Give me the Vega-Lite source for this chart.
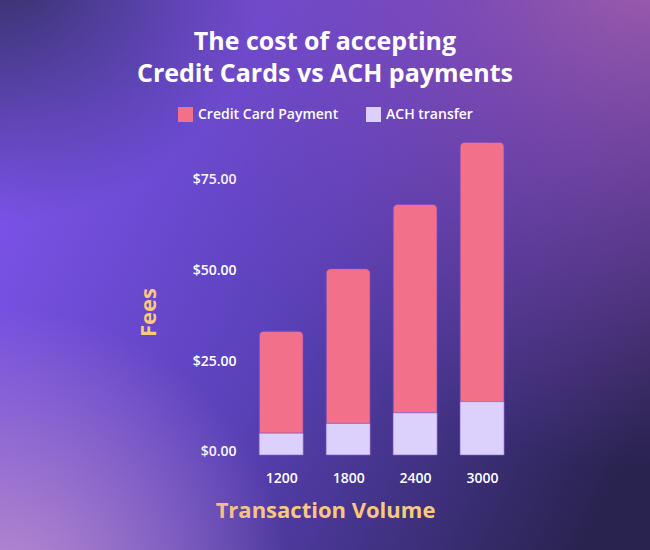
{
  "$schema": "https://vega.github.io/schema/vega-lite/v6.json",
  "width": 650,
  "height": 550,
  "autosize": {"type": "none"},
  "padding": 0,
  "background": "#4a3a8c",
  "config": {
    "view": {
      "stroke": null,
      "fill": {"gradient": "linear", "x1": 0, "y1": 0.35, "x2": 1, "y2": 0.75,
        "stops": [{"offset": 0, "color": "#7b53e8"}, {"offset": 0.45, "color": "#5a41b9"}, {"offset": 1, "color": "#29234f"}]}
    },
    "font": "Open Sans"
  },
  "title": {
    "text": ["The cost of accepting", "Credit Cards vs ACH payments"],
    "anchor": "middle",
    "frame": "group",
    "offset": -87,
    "font": "Open Sans",
    "fontSize": 25,
    "fontWeight": "bold",
    "color": "#ffffff",
    "lineHeight": 32.4
  },
  "resolve": {"scale": {"x": "independent", "y": "independent"}},
  "layer": [
    {
      "data": {"values": [{}]},
      "mark": {"type": "rect", "fill": {"gradient": "radial", "x1": 0, "y1": 0, "r1": 0, "x2": 0, "y2": 0, "r2": 0.42,
        "stops": [{"offset": 0, "color": "rgba(44,44,88,0.95)"}, {"offset": 1, "color": "rgba(44,44,88,0)"}]}},
      "encoding": {}
    },
    {
      "data": {"values": [{}]},
      "mark": {"type": "rect", "fill": {"gradient": "radial", "x1": 1, "y1": 0, "r1": 0, "x2": 1, "y2": 0, "r2": 0.8,
        "stops": [{"offset": 0, "color": "rgba(166,98,172,0.97)"}, {"offset": 0.45, "color": "rgba(145,80,190,0.55)"}, {"offset": 1, "color": "rgba(130,70,190,0)"}]}},
      "encoding": {}
    },
    {
      "data": {"values": [{}]},
      "mark": {"type": "rect", "fill": {"gradient": "radial", "x1": 0, "y1": 1, "r1": 0, "x2": 0, "y2": 1, "r2": 0.45,
        "stops": [{"offset": 0, "color": "rgba(192,146,206,0.95)"}, {"offset": 1, "color": "rgba(192,146,206,0)"}]}},
      "encoding": {}
    },
    {
      "data": {"values": [
        {"volume": 1200, "type": "ACH transfer", "fee": 6.0},
        {"volume": 1200, "type": "Credit Card Payment", "fee": 28.1},
        {"volume": 1800, "type": "ACH transfer", "fee": 8.7},
        {"volume": 1800, "type": "Credit Card Payment", "fee": 42.6},
        {"volume": 2400, "type": "ACH transfer", "fee": 11.6},
        {"volume": 2400, "type": "Credit Card Payment", "fee": 57.4},
        {"volume": 3000, "type": "ACH transfer", "fee": 14.7},
        {"volume": 3000, "type": "Credit Card Payment", "fee": 71.4}
      ]},
      "encoding": {
        "x": {
          "field": "volume",
          "type": "quantitative",
          "scale": {"domain": [-1275, 4460], "nice": false, "zero": false},
          "axis": {
            "values": [1200, 1800, 2400, 3000],
            "format": "d",
            "title": "Transaction Volume",
            "offset": -72,
            "ticks": false,
            "tickSize": 0,
            "domain": false,
            "grid": false,
            "labelFlush": false,
            "labelPadding": 0,
            "labelBaseline": "middle",
            "labelFont": "Open Sans",
            "labelFontSize": 14,
            "labelFontWeight": 600,
            "labelColor": "#ffffff",
            "titleX": 325,
            "titleY": 32,
            "titleAlign": "center",
            "titleBaseline": "middle",
            "titleFont": "Open Sans",
            "titleFontSize": 22,
            "titleFontWeight": "bold",
            "titleColor": "#fcc77f"
          }
        },
        "y": {
          "field": "fee",
          "type": "quantitative",
          "stack": "zero",
          "scale": {"domain": [-26.16, 125.27], "nice": false, "zero": false},
          "axis": {
            "values": [0, 25, 50, 75],
            "format": "$.2f",
            "title": "Fees",
            "offset": -236,
            "ticks": false,
            "tickSize": 0,
            "domain": false,
            "grid": false,
            "labelPadding": 0,
            "labelOffset": -3,
            "labelFont": "Open Sans",
            "labelFontSize": 14,
            "labelFontWeight": 600,
            "labelColor": "#ffffff",
            "titleX": -88,
            "titleY": 312,
            "titleAngle": -90,
            "titleAlign": "center",
            "titleBaseline": "middle",
            "titleFont": "Open Sans",
            "titleFontSize": 22,
            "titleFontWeight": "bold",
            "titleColor": "#fcc77f"
          }
        },
        "order": {"field": "type", "sort": "ascending"},
        "color": {
          "field": "type",
          "type": "nominal",
          "scale": {"domain": ["Credit Card Payment", "ACH transfer"], "range": ["#f27089", "#dcd0fd"]},
          "legend": {
            "title": null,
            "orient": "none",
            "direction": "horizontal",
            "legendX": 178,
            "legendY": 107,
            "symbolType": "square",
            "symbolSize": 225,
            "symbolStrokeWidth": 0,
            "symbolOpacity": 1,
            "labelFont": "Open Sans",
            "labelFontSize": 14,
            "labelFontWeight": 600,
            "labelColor": "#ffffff",
            "labelOffset": 5,
            "columnPadding": 27
          }
        }
      },
      "layer": [
        {
          "mark": {
            "type": "bar",
            "size": 44,
            "stroke": "#7c4fc8",
            "strokeOpacity": 0.5,
            "strokeWidth": 1,
            "cornerRadiusEnd": 5
          }
        },
        {
          "transform": [{"filter": "datum.type === 'ACH transfer'"}],
          "mark": {
            "type": "bar",
            "size": 44,
            "stroke": "#7c4fc8",
            "strokeOpacity": 0.5,
            "strokeWidth": 1
          }
        }
      ]
    }
  ]
}
